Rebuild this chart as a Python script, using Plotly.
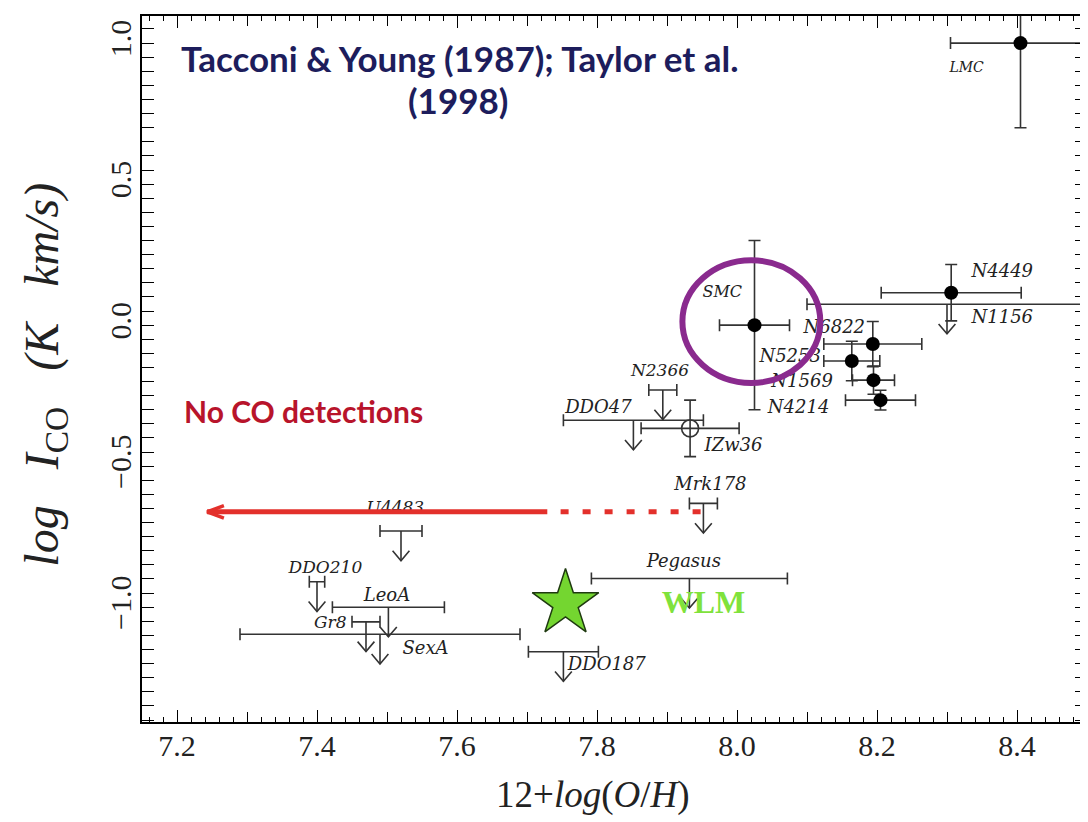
import plotly.graph_objects as go

# ---------------- data ----------------
# CO detections (filled circles)
det_names = ["LMC", "SMC", "N4449", "N6822", "N5253", "N1569", "N4214"]
det_x = [8.405, 8.025, 8.306, 8.194, 8.164, 8.195, 8.205]
det_y = [1.00, 0.00, 0.115, -0.067, -0.127, -0.195, -0.266]
det_xerr = [0.10, 0.05, 0.10, 0.07, 0.04, 0.03, 0.05]
det_yerr = [0.30, 0.30, 0.10, 0.08, 0.07, 0.05, 0.035]

# open-circle detection
open_names = ["IZw36"]
open_x = [7.933]
open_y = [-0.366]
open_xerr = [0.07]
open_yerr = [0.10]

# upper limits
lim_names = ["N1156", "N2366", "DDO47", "Mrk178", "U4483", "DDO210",
             "LeoA", "Gr8", "SexA", "DDO187", "Pegasus"]
lim_x = [8.30, 7.894, 7.852, 7.952, 7.52, 7.40, 7.502, 7.47, 7.49, 7.752, 7.932]
lim_y = [0.074, -0.23, -0.337, -0.632, -0.73, -0.91, -1.00, -1.052, -1.096, -1.158, -0.898]
lim_xerr = [0.20, 0.02, 0.10, 0.02, 0.03, 0.011, 0.08, 0.02, 0.20, 0.05, 0.14]

# label positions
lab_text = ["LMC", "SMC", "N4449", "N1156", "N6822", "N5253", "N1569", "N4214",
            "N2366", "DDO47", "IZw36", "Mrk178", "U4483", "DDO210", "LeoA",
            "Gr8", "SexA", "DDO187", "Pegasus"]
lab_x = [8.328, 7.979, 8.379, 8.379, 8.139, 8.076, 8.093, 8.088,
         7.890, 7.802, 7.995, 7.962, 7.512, 7.412, 7.500,
         7.419, 7.555, 7.814, 7.924]
lab_y = [0.911, 0.113, 0.185, 0.024, -0.012, -0.115, -0.205, -0.295,
         -0.166, -0.295, -0.432, -0.567, -0.652, -0.863, -0.961,
         -1.058, -1.150, -1.206, -0.843]
lab_size = [14, 16, 18, 18, 18, 18, 18, 18, 17, 18, 18, 18, 17, 17, 18, 17, 18, 18, 18]

# WLM
wlm_x = [7.755]
wlm_y = [-0.987]
wlm_label_x = [7.952]
wlm_label_y = [-0.993]

# "No CO detections" arrow
red_y = -0.662
red_solid_x = [7.729, 7.243]
red_dash_x = [7.748, 7.952]

# highlight ellipse around SMC
ell_x = [7.922, 8.119]
ell_y = [-0.205, 0.230]

x_range = [7.15, 8.5]
y_range = [-1.407, 1.096]
y_ticks = [-1.0, -0.5, 0.0, 0.5, 1.0]
y_ticktext = ["\u22121.0", "\u22120.5", "0.0", "0.5", "1.0"]

# ---------------- style ----------------
ERR_COL = "#333333"
ARROW_LEN = 0.105
HEAD_DX = 0.012
HEAD_DY = 0.035

fig = go.Figure()

# upper-limit horizontal bars
fig.add_trace(go.Scatter(
    x=lim_x, y=lim_y, mode="markers",
    marker=dict(size=1, color="rgba(0,0,0,0)"),
    error_x=dict(type="data", array=lim_xerr, color=ERR_COL, thickness=1.6, width=6),
    hoverinfo="skip", showlegend=False))

# upper-limit arrows
ax, ay = [], []
for xv, yv in zip(lim_x, lim_y):
    tip = yv - ARROW_LEN
    ax += [xv, xv, None, xv - HEAD_DX, xv, xv + HEAD_DX, None]
    ay += [yv, tip, None, tip + HEAD_DY, tip, tip + HEAD_DY, None]
fig.add_trace(go.Scatter(x=ax, y=ay, mode="lines",
                         line=dict(color=ERR_COL, width=1.6),
                         hoverinfo="skip", showlegend=False))

# detections
fig.add_trace(go.Scatter(
    x=det_x, y=det_y, mode="markers",
    marker=dict(size=14, color="black"),
    error_x=dict(type="data", array=det_xerr, color=ERR_COL, thickness=1.6, width=6),
    error_y=dict(type="data", array=det_yerr, color=ERR_COL, thickness=1.6, width=6),
    showlegend=False))

# open detection
fig.add_trace(go.Scatter(
    x=open_x, y=open_y, mode="markers",
    marker=dict(size=17, color="rgba(0,0,0,0)", line=dict(color=ERR_COL, width=1.6)),
    error_x=dict(type="data", array=open_xerr, color=ERR_COL, thickness=1.6, width=6),
    error_y=dict(type="data", array=open_yerr, color=ERR_COL, thickness=1.6, width=6),
    showlegend=False))

# labels
fig.add_trace(go.Scatter(
    x=lab_x, y=lab_y, mode="text", text=lab_text,
    textfont=dict(family="DejaVu Serif", size=lab_size, color="#222222", style="italic"),
    hoverinfo="skip", showlegend=False))

# WLM star and label
fig.add_trace(go.Scatter(
    x=wlm_x, y=wlm_y, mode="markers",
    marker=dict(symbol="star", size=50, color="#74d630",
                line=dict(color="#1f3a10", width=1.5)),
    showlegend=False))
fig.add_trace(go.Scatter(
    x=wlm_label_x, y=wlm_label_y, mode="text", text=["WLM"],
    textfont=dict(family="Liberation Serif", size=32, color="#7fe23c", weight="bold"),
    hoverinfo="skip", showlegend=False))

# red "no CO" arrow (drawn above the U4483 label)
fig.add_trace(go.Scatter(
    x=red_solid_x, y=[red_y, red_y], mode="lines",
    line=dict(color="#e3302b", width=5), hoverinfo="skip", showlegend=False))
hx = red_solid_x[1]
fig.add_trace(go.Scatter(
    x=[hx + 0.024, hx, hx + 0.024], y=[red_y + 0.022, red_y, red_y - 0.022], mode="lines",
    line=dict(color="#e3302b", width=3.5), hoverinfo="skip", showlegend=False))
fig.add_trace(go.Scatter(
    x=red_dash_x, y=[red_y, red_y], mode="lines",
    line=dict(color="#e3302b", width=5, dash="8px,14px"), hoverinfo="skip", showlegend=False))

# invisible trace to carry the 0.1-step tick overlay axis
fig.add_trace(go.Scatter(x=[x_range[0]], y=[y_range[0]], xaxis="x2", mode="markers",
                         marker=dict(size=1, color="rgba(0,0,0,0)"),
                         hoverinfo="skip", showlegend=False))

# ellipse
fig.add_shape(type="circle", xref="x", yref="y",
              x0=ell_x[0], x1=ell_x[1], y0=ell_y[0], y1=ell_y[1],
              line=dict(color="#8a2a8e", width=6))

# text annotations
fig.add_annotation(xref="paper", yref="paper", x=0.3365, y=0.9405,
                   xanchor="center", yanchor="middle",
                   text="<b>Tacconi &amp; Young (1987); Taylor et al.</b>",
                   showarrow=False, font=dict(family="Lato", size=35, color="#1d1d5c"))
fig.add_annotation(xref="paper", yref="paper", x=0.334, y=0.881,
                   xanchor="center", yanchor="middle",
                   text="<b>(1998)</b>",
                   showarrow=False, font=dict(family="Lato", size=35, color="#1d1d5c"))
fig.add_annotation(xref="paper", yref="paper", x=0.1704, y=0.4405,
                   xanchor="center", yanchor="middle",
                   text="<b>No CO detections</b>",
                   showarrow=False, font=dict(family="Lato", size=30, color="#b8142b"))

# axis titles
fig.add_annotation(xref="paper", yref="paper", x=0.477, y=-0.1034,
                   xanchor="center", yanchor="middle", showarrow=False,
                   text="12+<i>log</i>(<i>O</i>/<i>H</i>)",
                   font=dict(family="Liberation Serif", size=37, color="#222222"))
fig.add_annotation(xref="paper", yref="paper", x=-0.1026, y=0.492,
                   xanchor="center", yanchor="middle", showarrow=False, textangle=-90,
                   text="<i>log\u00a0\u00a0\u00a0I</i><sub>CO</sub>\u00a0\u00a0\u00a0<i>(K\u00a0\u00a0\u00a0km/s)</i>",
                   font=dict(family="Liberation Serif", size=48, color="#222222"))

axis_common = dict(showline=True, linewidth=2, linecolor="black", mirror="allticks",
                   ticks="inside", ticklen=12, tickwidth=1.4, tickcolor="black",
                   showgrid=False, zeroline=False, automargin=False,
                   tickfont=dict(family="Liberation Serif", size=30, color="#222222"))

fig.update_layout(
    xaxis=dict(range=x_range, tickmode="linear", tick0=7.2, dtick=0.2,
               tickformat=".1f", ticklabelstandoff=-4,
               minor=dict(dtick=0.02, tick0=7.2, ticks="inside", ticklen=5,
                          tickcolor="black", tickwidth=1.2),
               **axis_common),
    xaxis2=dict(range=x_range, overlaying="x", anchor="y", side="bottom",
                tickmode="linear", tick0=7.2, dtick=0.1, ticks="inside", ticklen=10,
                tickwidth=1.3, tickcolor="black", showticklabels=False,
                showline=False, mirror="allticks", showgrid=False, zeroline=False,
                automargin=False),
    yaxis=dict(range=y_range, tickmode="array", tickvals=y_ticks, ticktext=y_ticktext,
               tickangle=-90, ticklabelstandoff=-3,
               minor=dict(dtick=0.05, tick0=0, ticks="inside", ticklen=5,
                          tickcolor="black", tickwidth=1.2),
               **axis_common),
)

# the page adds an 8 px body margin, so the figure is sized to fit the 1088x822 window
fig.update_layout(width=1080, height=814,
                  margin=dict(l=134, r=1, t=8, b=100),
                  paper_bgcolor="white", plot_bgcolor="white",
                  showlegend=False)

fig.write_html("out.html")
